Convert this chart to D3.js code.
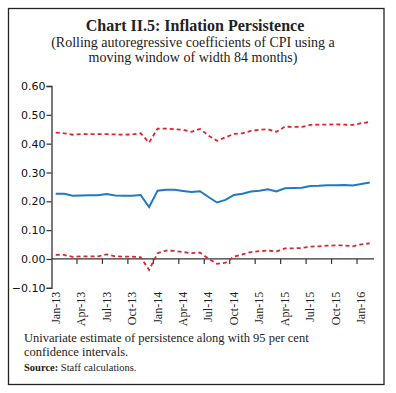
<!DOCTYPE html>
<html>
<head>
<meta charset="utf-8">
<script src="https://cdn.jsdelivr.net/npm/d3@7"></script>
<style>
  body { margin: 0; background: #fff; }
  svg { display: block; }
</style>
</head>
<body>
<svg id="chart"></svg>
<script>
var width = 396;
var height = 393;
var margin = { top : 86, bottom : 105, left : 51.5, right : 22 };

// monthly categories, Jan-13 to Feb-16
var months = ["Jan-13","Feb-13","Mar-13","Apr-13","May-13","Jun-13","Jul-13","Aug-13","Sep-13","Oct-13","Nov-13","Dec-13",
  "Jan-14","Feb-14","Mar-14","Apr-14","May-14","Jun-14","Jul-14","Aug-14","Sep-14","Oct-14","Nov-14","Dec-14",
  "Jan-15","Feb-15","Mar-15","Apr-15","May-15","Jun-15","Jul-15","Aug-15","Sep-15","Oct-15","Nov-15","Dec-15",
  "Jan-16","Feb-16"];

// labels shown on the x axis (every 3rd month)
var tickLabels = ["Jan-13","Apr-13","Jul-13","Oct-13","Jan-14","Apr-14","Jul-14","Oct-14","Jan-15","Apr-15","Jul-15","Oct-15","Jan-16"];

var yTicks = [-0.10, 0.00, 0.10, 0.20, 0.30, 0.40, 0.50, 0.60];

// persistence estimate and the 95% bands
var persistence = [0.226,0.226,0.219,0.220,0.221,0.221,0.225,0.220,0.219,0.219,0.222,0.180,
  0.237,0.240,0.240,0.236,0.232,0.235,0.215,0.196,0.205,0.222,0.226,0.234,
  0.237,0.242,0.234,0.245,0.246,0.247,0.253,0.254,0.256,0.256,0.257,0.255,
  0.260,0.265];
var upperBand = [0.438,0.436,0.431,0.433,0.433,0.433,0.433,0.432,0.431,0.432,0.436,0.404,
  0.452,0.452,0.450,0.448,0.441,0.451,0.428,0.410,0.422,0.434,0.436,0.444,
  0.448,0.450,0.441,0.459,0.458,0.458,0.465,0.466,0.466,0.467,0.466,0.465,
  0.471,0.475];
var lowerBand = [0.014,0.014,0.007,0.009,0.009,0.009,0.016,0.009,0.008,0.008,0.006,-0.038,
  0.020,0.029,0.028,0.024,0.020,0.022,0.001,-0.017,-0.013,0.008,0.016,0.024,
  0.027,0.029,0.026,0.037,0.037,0.038,0.043,0.044,0.046,0.047,0.047,0.044,
  0.051,0.054];

var serif = "'Liberation Serif', 'DejaVu Serif', serif";

var svg = d3.select('#chart')
  .attr('width', width)
  .attr('height', height)
  .attr('viewBox', [0, 0, width, height]);

// outer frame
svg.append("rect")
  .attr("x", 8.5).attr("y", 8.5)
  .attr("width", 375.5).attr("height", 376)
  .attr("fill", "none")
  .attr("stroke", "#222")
  .attr("stroke-width", 1.3);

///////////////////////////////////////////////////////////////////////////////////////////////////////////
// title + subtitle
svg.append("text")
  .attr("x", 195).attr("y", 31)
  .attr("text-anchor", "middle")
  .style("font-family", serif)
  .style("font-weight", "bold")
  .style("font-size", "16px")
  .attr("fill", "#222")
  .text("Chart II.5: Inflation Persistence");

var subtitle = ["(Rolling autoregressive coefficients of CPI using a", "moving window of width 84 months)"];
svg.selectAll("text.sub")
  .data(subtitle)
  .join("text")
    .attr("class", "sub")
    .attr("x", 193)
    .attr("y", (d, i) => 47 + i * 15)
    .attr("text-anchor", "middle")
    .style("font-family", serif)
    .style("font-size", "14px")
    .attr("fill", "#222")
    .text(d => d);

///////////////////////////////////////////////////////////////////////////////////////////////////////////
// scales
var x = d3.scaleBand()
  .domain(months)
  .range([margin.left, width - margin.right])
  .padding(0);

var y = d3.scaleLinear()
  .domain([-0.1, 0.6])
  .range([height - margin.bottom - 0.2, margin.top]);

var cx = d => x(d) + x.bandwidth() / 2;

///////////////////////////////////////////////////////////////////////////////////////////////////////////
// y axis
var yAxis = svg.append("g")
  .attr("transform", "translate(" + margin.left + ",0)")
  .call(d3.axisLeft(y).tickValues(yTicks).tickFormat(d3.format(".2f")).tickSizeOuter(0).tickSize(5));
yAxis.select(".domain").attr("stroke", "#333").attr("stroke-width", 1.3);
yAxis.selectAll(".tick line").attr("stroke", "#333").attr("stroke-width", 1.2);
yAxis.selectAll(".tick text")
  .attr("x", -6)
  .style("font-family", "'DejaVu Sans', sans-serif")
  .style("font-size", "11px")
  .attr("fill", "#111");

// x axis line sits on zero, ticks at every 3rd category boundary
var boundaries = months.filter((d, i) => i % 3 == 0 && i > 0);
svg.append("line")
  .attr("x1", margin.left).attr("x2", width - margin.right)
  .attr("y1", y(0)).attr("y2", y(0))
  .attr("stroke", "#333").attr("stroke-width", 1.3);
svg.selectAll("line.xtick")
  .data(boundaries)
  .join("line")
    .attr("class", "xtick")
    .attr("x1", d => x(d)).attr("x2", d => x(d))
    .attr("y1", y(0)).attr("y2", y(0) + 5)
    .attr("stroke", "#333").attr("stroke-width", 1.2);

// rotated month labels below the plot
svg.selectAll("text.xlab")
  .data(tickLabels)
  .join("text")
    .attr("class", "xlab")
    .attr("transform", d => "translate(" + cx(d) + "," + (y(-0.1) + 4) + ") rotate(-90)")
    .attr("dy", "0.33em")
    .attr("text-anchor", "end")
    .style("font-family", serif)
    .style("font-size", "12px")
    .attr("fill", "#222")
    .text(d => d);

///////////////////////////////////////////////////////////////////////////////////////////////////////////
// lines
var line = d3.line()
  .x((d, i) => cx(months[i]))
  .y(d => y(d));

svg.append("path")
  .datum(upperBand)
  .attr("d", line)
  .attr("fill", "none")
  .attr("stroke", "#e2232b")
  .attr("stroke-width", 1.8)
  .attr("stroke-dasharray", "4,3");

svg.append("path")
  .datum(lowerBand)
  .attr("d", line)
  .attr("fill", "none")
  .attr("stroke", "#d42a2f")
  .attr("stroke-width", 1.8)
  .attr("stroke-dasharray", "4,3");

svg.append("path")
  .datum(persistence)
  .attr("d", line)
  .attr("fill", "none")
  .attr("stroke", "#1f7ac6")
  .attr("stroke-width", 2);

///////////////////////////////////////////////////////////////////////////////////////////////////////////
// footnote
var notes = ["Univariate estimate of persistence along with 95 per cent", "confidence intervals."];
svg.selectAll("text.note")
  .data(notes)
  .join("text")
    .attr("class", "note")
    .attr("x", 24)
    .attr("y", (d, i) => 342 + i * 14)
    .style("font-family", serif)
    .style("font-size", "12.5px")
    .attr("fill", "#222")
    .text(d => d);

var src = svg.append("text")
  .attr("x", 24).attr("y", 371)
  .style("font-family", serif)
  .style("font-size", "10.5px")
  .attr("fill", "#222");
src.append("tspan").style("font-weight", "bold").text("Source: ");
src.append("tspan").text("Staff calculations.");
</script>
</body>
</html>
